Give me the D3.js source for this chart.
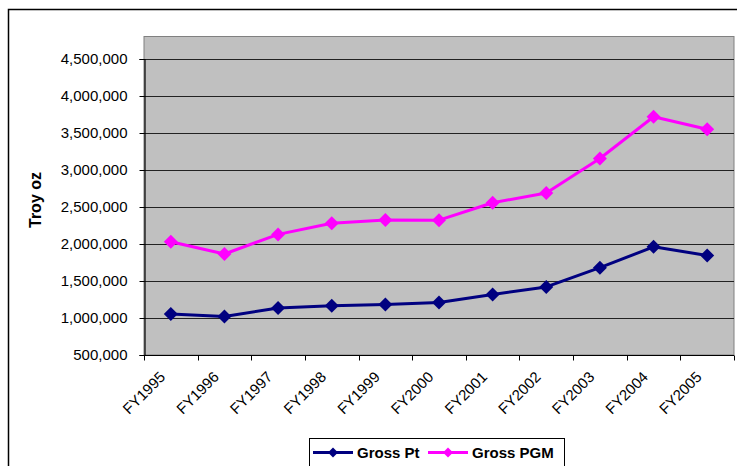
<!DOCTYPE html>
<html>
<head>
<meta charset="utf-8">
<script src="https://cdn.jsdelivr.net/npm/d3@7"></script>
<style>
  html, body { margin: 0; padding: 0; background: #fff; }
  svg { display: block; font-family: Arial, "Liberation Sans", sans-serif; }
</style>
</head>
<body>
<svg id="chart" width="737" height="466"></svg>
<script>
// Fiscal years along the x axis
const years = ["FY1995","FY1996","FY1997","FY1998","FY1999","FY2000","FY2001","FY2002","FY2003","FY2004","FY2005"];
// Gross platinum output, troy ounces
const grossPt  = [1054000, 1020000, 1135000, 1165000, 1182000, 1208000, 1318000, 1420000, 1680000, 1962000, 1845000];
// Gross PGM output, troy ounces
const grossPGM = [2030000, 1865000, 2130000, 2280000, 2325000, 2322000, 2558000, 2688000, 3155000, 3720000, 3550000];
// Value axis ticks
const yTicks = [500000, 1000000, 1500000, 2000000, 2500000, 3000000, 3500000, 4000000, 4500000];

const svg = d3.select("#chart");

// Outer chart frame
svg.append("rect")
  .attr("x", 8.5).attr("y", 9.5)
  .attr("width", 740).attr("height", 470)
  .attr("fill", "#fff").attr("stroke", "#000").attr("stroke-width", 1.5);

const plot = { left: 144, right: 734, top: 36, bottom: 355 };

const x = d3.scaleBand().domain(years).range([plot.left, plot.right]);
const y = d3.scaleLinear().domain([500000, 4500000]).range([plot.bottom, 59]);

// Plot area
svg.append("rect")
  .attr("x", plot.left).attr("y", plot.top + 0.5)
  .attr("width", plot.right - plot.left).attr("height", plot.bottom - plot.top - 0.5)
  .attr("fill", "#c0c0c0").attr("stroke", "#808080").attr("stroke-width", 1);

// Horizontal gridlines
svg.append("g")
  .selectAll("line")
  .data(yTicks.slice(1))
  .join("line")
  .attr("x1", plot.left).attr("x2", plot.right)
  .attr("y1", d => Math.round(y(d)) + 0.5).attr("y2", d => Math.round(y(d)) + 0.5)
  .attr("stroke", "#222").attr("stroke-width", 1);

// Y axis
const fmt = d3.format(",");
const yAxis = svg.append("g")
  .attr("transform", `translate(${plot.left + 0.5},0)`)
  .call(d3.axisLeft(y).tickValues(yTicks).tickFormat(fmt).tickSize(5).tickPadding(12));
yAxis.select(".domain").attr("stroke", "#000").attr("stroke-width", 1.2);
yAxis.selectAll(".tick line").attr("stroke", "#000");
yAxis.selectAll(".tick text")
  .attr("font-size", 15).attr("fill", "#000")
  .attr("font-family", "Arial, 'Liberation Sans', sans-serif");

// X axis with ticks at category boundaries
const xAxisG = svg.append("g")
  .attr("transform", `translate(0,${plot.bottom + 0.5})`);
xAxisG.append("line")
  .attr("x1", plot.left).attr("x2", plot.right)
  .attr("stroke", "#000").attr("stroke-width", 1.2);
const boundaries = years.map(d => x(d)).concat([x.range()[1]]);
xAxisG.selectAll("line.tk")
  .data(boundaries)
  .join("line").attr("class", "tk")
  .attr("x1", d => Math.round(d) + 0.5).attr("x2", d => Math.round(d) + 0.5)
  .attr("y1", 0).attr("y2", 5)
  .attr("stroke", "#000");
xAxisG.selectAll("text")
  .data(years)
  .join("text")
  .attr("transform", d => `translate(${x(d) + x.bandwidth() / 2 - 12},${15}) rotate(-45)`)
  .attr("text-anchor", "end")
  .attr("dy", "0.7em")
  .attr("font-size", 15)
  .attr("fill", "#000")
  .text(d => d);

// Y axis title
svg.append("text")
  .attr("transform", "translate(41,200) rotate(-90)")
  .attr("text-anchor", "middle")
  .attr("font-size", 16).attr("font-weight", "bold")
  .text("Troy oz");

// Series
const series = [
  { name: "Gross Pt", values: grossPt, color: "#000080" },
  { name: "Gross PGM", values: grossPGM, color: "#ff00ff" }
];
const cx = d => x(d) + x.bandwidth() / 2;
const diamondPath = s => `M0,${-s}L${s},0L0,${s}L${-s},0Z`;

series.forEach(s => {
  const pts = years.map((yr, i) => [cx(yr), y(s.values[i])]);
  svg.append("path")
    .attr("d", d3.line()(pts))
    .attr("fill", "none").attr("stroke", s.color).attr("stroke-width", 3)
    .attr("stroke-linejoin", "round");
  svg.append("g")
    .selectAll("path")
    .data(pts)
    .join("path")
    .attr("transform", p => `translate(${p[0]},${p[1]})`)
    .attr("d", diamondPath(7))
    .attr("fill", s.color);
});

// Legend
const legend = svg.append("g");
legend.append("rect")
  .attr("x", 309.5).attr("y", 438.5)
  .attr("width", 255).attr("height", 40)
  .attr("fill", "#fff").attr("stroke", "#000").attr("stroke-width", 1);
const legendItems = [
  { s: series[0], x0: 313, x1: 353, tx: 357 },
  { s: series[1], x0: 428, x1: 468, tx: 472 }
];
legendItems.forEach(it => {
  legend.append("line")
    .attr("x1", it.x0).attr("x2", it.x1).attr("y1", 452.5).attr("y2", 452.5)
    .attr("stroke", it.s.color).attr("stroke-width", 3);
  legend.append("path")
    .attr("transform", `translate(${(it.x0 + it.x1) / 2},452.5)`)
    .attr("d", diamondPath(5))
    .attr("fill", it.s.color);
  legend.append("text")
    .attr("x", it.tx).attr("y", 458)
    .attr("font-size", 15).attr("font-weight", "bold")
    .attr("fill", "#000")
    .text(it.s.name);
});
</script>
</body>
</html>
